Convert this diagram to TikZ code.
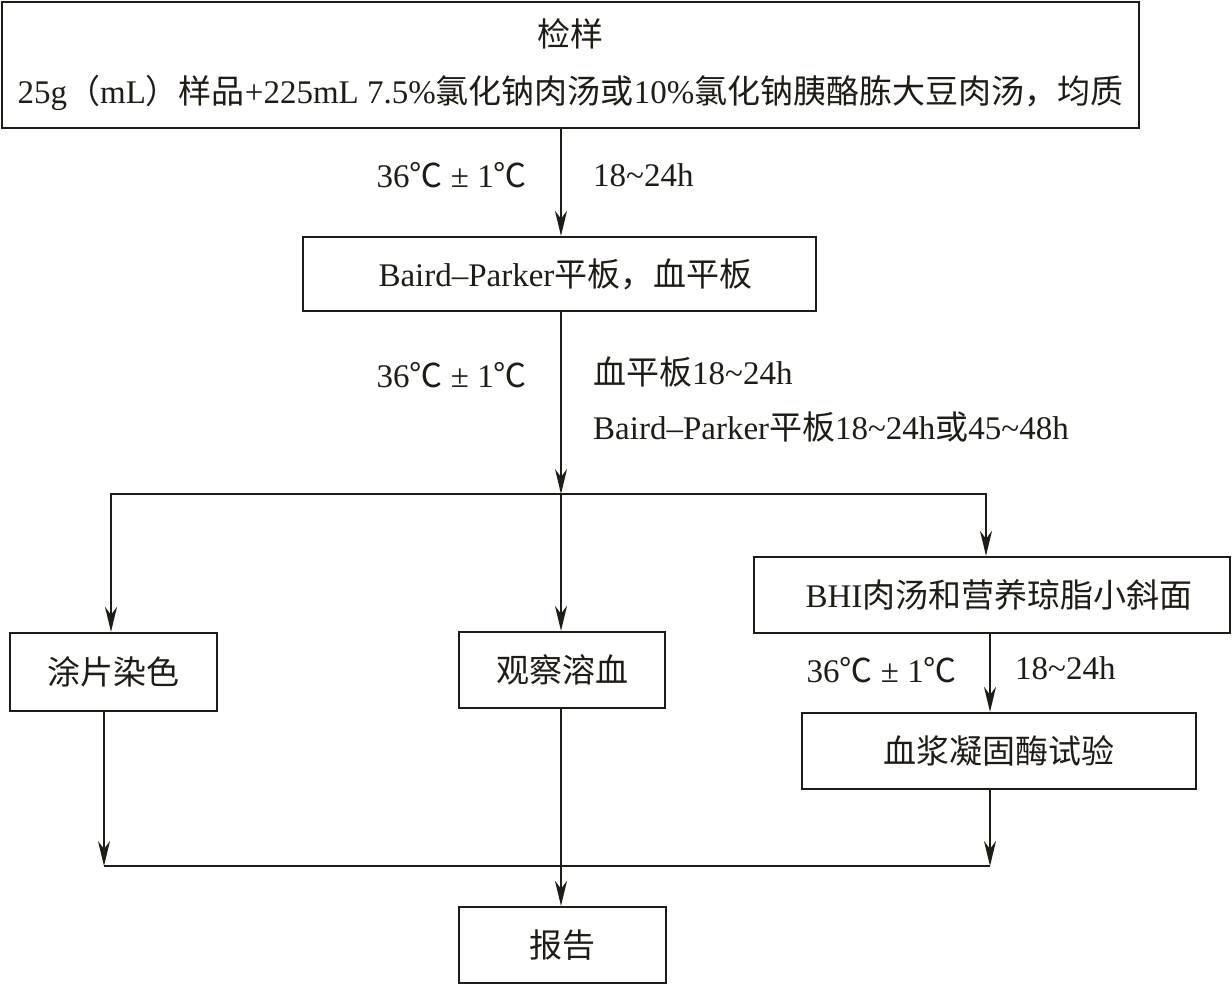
\documentclass[tikz,border=0pt]{standalone}
\usepackage{fontspec}
\setmainfont{Liberation Serif}
\newfontfamily\cjk{Noto Sans CJK SC}
\newcommand{\zh}[1]{{\cjk #1}}
\newcommand{\dc}{\zh{℃}}
\newcommand{\tld}{\textasciitilde}
\usetikzlibrary{arrows.meta}
\definecolor{ink}{RGB}{30,28,20}
\tikzset{
  >={Stealth[length=25pt,width=12pt,inset=8pt]},
  box/.style={draw=ink, line width=2.3pt, inner sep=0pt, text=ink, font=\fontsize{33}{40}\selectfont},
  lab/.style={inner sep=0pt, text=ink, font=\fontsize{33}{40}\selectfont},
  ln/.style={draw=ink, line width=2.3pt},
}
\begin{document}
\begin{tikzpicture}[x=1pt,y=-1pt]
\useasboundingbox (0,0) rectangle (1232,985);

\node[box, minimum width=1137pt, minimum height=126pt, align=center, font=\fontsize{33}{57}\selectfont] (sample) at (570.5,65)
  {\zh{检样}\\25g\zh{（}mL\zh{）样品}+225mL 7.5\%\zh{氯化钠肉汤或}10\%\zh{氯化钠胰酪胨大豆肉汤，均质}};
\node[box, minimum width=513pt, minimum height=74pt] (bp) at (559.5,274) {\hspace{12pt}Baird--Parker\zh{平板，血平板}};
\node[box, minimum width=207pt, minimum height=78pt] (smear) at (113.5,672) {\zh{涂片染色}};
\node[box, minimum width=206pt, minimum height=76pt] (hemo) at (562,670) {\zh{观察溶血}};
\node[box, minimum width=476pt, minimum height=76pt] (bhi) at (992,595) {\hspace{14pt}BHI\zh{肉汤和营养琼脂小斜面}};
\node[box, minimum width=394pt, minimum height=76pt] (coag) at (999,751) {\zh{血浆凝固酶试验}};
\node[box, minimum width=207pt, minimum height=76pt] (report) at (562.5,945) {\zh{报告}};

% branch points
\coordinate (split) at (561,494);
\coordinate (sL) at (111,494);
\coordinate (sR) at (986,494);
\coordinate (mL) at (104,866);
\coordinate (mR) at (990,866);

\draw[ln,->] (sample.south -| split) -- (bp.north -| split);
\draw[ln,->] (bp.south -| split) -- (split);
\draw[ln,<->] (smear.north -| sL) -- (sL) -- (sR) -- (bhi.north -| sR);
\draw[ln,->] (split) -- (hemo.north -| split);
\draw[ln,->] (bhi.south -| mR) -- (coag.north -| mR);
\draw[ln,->] (smear.south -| mL) -- (mL);
\draw[ln,->] (coag.south -| mR) -- (mR);
\draw[ln] (mL) -- (mR);
\draw[ln,->] (hemo.south -| split) -- (report.north -| split);

\node[lab, anchor=east] (t1) at (527,175) {36\dc{} ± 1\dc};
\node[lab, anchor=west] (h1) at (593,175) {18\tld24h};
\node[lab, anchor=east] (t2) at (527,375) {36\dc{} ± 1\dc};
\node[lab, anchor=west] (h2) at (593,372) {\zh{血平板}18\tld24h};
\node[lab, anchor=west] (h3) at (593,427) {Baird--Parker\zh{平板}18\tld24h\zh{或}45\tld48h};
\node[lab, anchor=east] (t3) at (957,670) {36\dc{} ± 1\dc};
\node[lab, anchor=west] (h4) at (1015,668) {18\tld24h};
\end{tikzpicture}
\end{document}
